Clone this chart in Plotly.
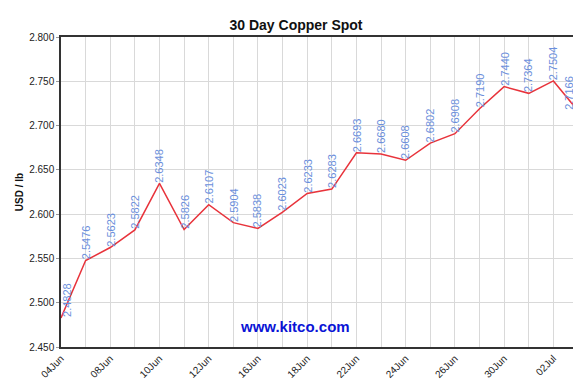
import plotly.graph_objects as go

dates = ["04Jun", "05Jun", "08Jun", "09Jun", "10Jun", "11Jun", "12Jun", "15Jun",
         "16Jun", "17Jun", "18Jun", "19Jun", "22Jun", "23Jun", "24Jun", "25Jun",
         "26Jun", "29Jun", "30Jun", "01Jul", "02Jul", "03Jul"]
prices = [2.4828, 2.5476, 2.5623, 2.5822, 2.6348, 2.5826, 2.6107, 2.5904,
          2.5838, 2.6023, 2.6233, 2.6283, 2.6693, 2.6680, 2.6608, 2.6802,
          2.6908, 2.7190, 2.7440, 2.7364, 2.7504, 2.7166]
label_text = ["%.4f" % p for p in prices]
y_ticks = [2.450, 2.500, 2.550, 2.600, 2.650, 2.700, 2.750, 2.800]

idx = list(range(len(dates)))
tick_text = [d if i % 2 == 0 else "" for i, d in enumerate(dates)]

W, H = 581, 381
ml, mr, mt, mb = 53, 9, 29, 33
pw, ph = W - ml - mr, H - mt - mb

fig = go.Figure()
fig.add_trace(go.Scatter(x=idx, y=prices, mode="lines",
                         line=dict(color="#e8333b", width=1.5),
                         hoverinfo="skip", showlegend=False))

annotations = []
n = len(idx)
for i, (xv, yv, t) in enumerate(zip(idx, prices, label_text)):
    xs = 0
    if i == 0:
        xs = 6
    elif i == n - 1:
        xs = -9
    annotations.append(dict(x=xv, y=yv, xref="x", yref="y", text=t,
                            textangle=-90, showarrow=False,
                            xanchor="center", yanchor="bottom", xshift=xs,
                            yshift=-1,
                            font=dict(family="Liberation Sans, Arial", size=11,
                                      color="#6b8fdc")))
annotations.append(dict(x=(288 - ml) / pw, y=(H - mb - 338) / ph,
                        xref="paper", yref="paper", text="<b>www.kitco.com</b>",
                        showarrow=False, font=dict(family="Liberation Sans, Arial",
                                                   size=15, color="#0a14d6")))

fig.update_layout(
    width=W, height=H,
    margin=dict(l=ml, r=mr, t=mt, b=mb),
    paper_bgcolor="white", plot_bgcolor="white",
    title=dict(text="<b>30 Day Copper Spot</b>", x=288 / W, xanchor="center",
               y=1 - 17 / H, yanchor="middle", yref="container",
               font=dict(family="Liberation Sans, Arial", size=14, color="#111111")),
    annotations=annotations,
    font=dict(family="Liberation Sans, Arial", color="#222222"),
)
fig.update_xaxes(range=[0, n - 1], tickvals=idx, ticktext=tick_text,
                 tickangle=-45, tickfont=dict(size=10, color="#222222"),
                 showgrid=True, gridcolor="#d9d9d9", gridwidth=1,
                 showline=True, linecolor="#333333", linewidth=1.5, mirror=True,
                 ticks="", zeroline=False, fixedrange=True)
fig.update_yaxes(range=[2.450, 2.800], tickvals=y_ticks,
                 ticktext=["%.3f" % v for v in y_ticks],
                 tickfont=dict(size=10, color="#222222"),
                 showgrid=True, gridcolor="#d9d9d9", gridwidth=1,
                 showline=True, linecolor="#333333", linewidth=1.5, mirror=True,
                 ticks="outside", ticklen=3, tickcolor="#999999",
                 zeroline=False,
                 title=dict(text="<b>USD / lb</b>", standoff=4,
                            font=dict(size=10, color="#111111")))

fig.write_html("out.html")
